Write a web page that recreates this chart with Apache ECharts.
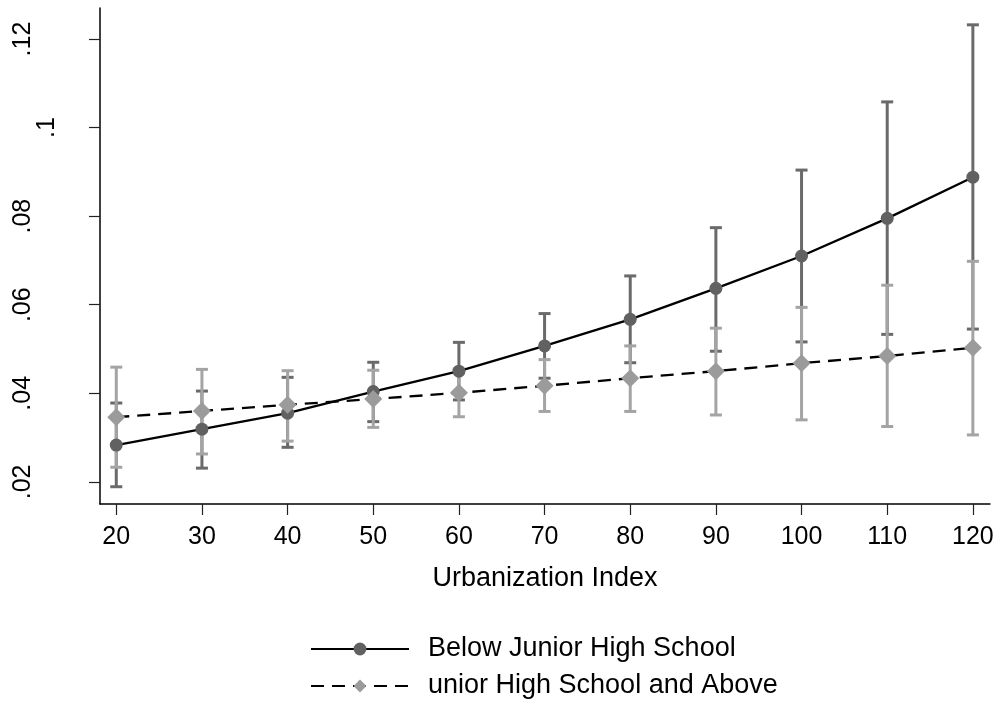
<!DOCTYPE html>
<html>
<head>
<meta charset="utf-8">
<script src="https://cdn.jsdelivr.net/npm/echarts@6/dist/echarts.min.js"></script>
<style>
html,body{margin:0;padding:0;background:#fff;}
#chart{width:1001px;height:709px;}
</style>
</head>
<body>
<div id="chart"></div>
<script>
const xValues = [20, 30, 40, 50, 60, 70, 80, 90, 100, 110, 120];
const belowMean = [0.0283, 0.0319, 0.0355, 0.0404, 0.0450, 0.0507, 0.0567, 0.0637, 0.0710, 0.0795, 0.0888];
const belowLow  = [0.0189, 0.0231, 0.0278, 0.0336, 0.0385, 0.0434, 0.0469, 0.0495, 0.0516, 0.0533, 0.0545];
const belowHigh = [0.0378, 0.0405, 0.0436, 0.0470, 0.0515, 0.0580, 0.0665, 0.0774, 0.0904, 0.1058, 0.1232];
const aboveMean = [0.0346, 0.0360, 0.0374, 0.0387, 0.0401, 0.0417, 0.0434, 0.0450, 0.0468, 0.0484, 0.0503];
const aboveLow  = [0.0233, 0.0263, 0.0292, 0.0323, 0.0347, 0.0359, 0.0359, 0.0351, 0.0340, 0.0325, 0.0306];
const aboveHigh = [0.0459, 0.0454, 0.0451, 0.0452, 0.0455, 0.0476, 0.0507, 0.0547, 0.0594, 0.0644, 0.0698];
const xTicks = [20, 30, 40, 50, 60, 70, 80, 90, 100, 110, 120];
const yTicksMain = [0.02, 0.04, 0.06, 0.08, 0.12];
const yTicksAlt = [0.1];
const yTicksAll = [0.02, 0.04, 0.06, 0.08, 0.1, 0.12];
const seriesNames = ['Below Junior High School', 'unior High School and Above'];

const FONT = '"Liberation Sans", Arial, sans-serif';
const fmtY = v => String(+v.toFixed(4)).replace(/^0\./, '.');

function ciRender(color) {
  return function (params, api) {
    const x = api.value(0), lo = api.value(1), hi = api.value(2);
    const pHi = api.coord([x, hi]);
    const pLo = api.coord([x, lo]);
    const half = 6;
    const style = { stroke: color, lineWidth: 3 };
    return {
      type: 'group',
      children: [
        { type: 'line', shape: { x1: pHi[0], y1: pHi[1], x2: pLo[0], y2: pLo[1] }, style },
        { type: 'line', shape: { x1: pHi[0] - half, y1: pHi[1], x2: pHi[0] + half, y2: pHi[1] }, style },
        { type: 'line', shape: { x1: pLo[0] - half, y1: pLo[1], x2: pLo[0] + half, y2: pLo[1] }, style }
      ]
    };
  };
}

const chart = echarts.init(document.getElementById('chart'), null, { renderer: 'canvas' });
const yAxisBase = {
  type: 'value', min: 0.015, max: 0.127, position: 'left',
  splitLine: { show: false }
};
chart.setOption({
  animation: false,
  backgroundColor: '#fff',
  grid: { left: 100, right: 11, top: 8, bottom: 205 },
  xAxis: {
    type: 'value', min: 18.1, max: 122,
    name: 'Urbanization Index', nameLocation: 'middle', nameGap: 61,
    nameTextStyle: { fontFamily: FONT, fontSize: 27, color: '#000' },
    axisLine: { show: true, onZero: false, lineStyle: { color: '#000', width: 1.5 } },
    axisTick: { show: true, customValues: xTicks, length: 11, lineStyle: { color: '#222', width: 1.2 } },
    axisLabel: { customValues: xTicks, margin: 21, fontFamily: FONT, fontSize: 25, color: '#000' },
    splitLine: { show: false }
  },
  yAxis: [
    Object.assign({}, yAxisBase, {
      axisLine: { show: true, onZero: false, lineStyle: { color: '#000', width: 1.5 } },
      axisTick: { show: true, customValues: yTicksAll, length: 11, lineStyle: { color: '#222', width: 1.2 } },
      axisLabel: { customValues: yTicksMain, rotate: 90, margin: 64, fontFamily: FONT, fontSize: 25, color: '#000', formatter: fmtY }
    }),
    Object.assign({}, yAxisBase, {
      axisLine: { show: false },
      axisTick: { show: false },
      axisLabel: { customValues: yTicksAlt, rotate: 90, margin: 40, fontFamily: FONT, fontSize: 25, color: '#000', formatter: fmtY }
    })
  ],
  legend: {
    orient: 'vertical', left: 310, top: 634, height: 75, padding: 0,
    itemWidth: 98, itemHeight: 16, itemGap: 7,
    data: seriesNames,
    textStyle: { fontFamily: FONT, fontSize: 27, lineHeight: 30, color: '#000', padding: [0, 0, 0, 14] }
  },
  series: [
    {
      type: 'custom', name: 'ci1', z: 2, silent: true,
      renderItem: ciRender('#6a6a6a'),
      encode: { x: 0, y: [1, 2] },
      data: xValues.map((x, i) => [x, belowLow[i], belowHigh[i]])
    },
    {
      type: 'custom', name: 'ci2', z: 3, silent: true,
      renderItem: ciRender('#a4a4a4'),
      encode: { x: 0, y: [1, 2] },
      data: xValues.map((x, i) => [x, aboveLow[i], aboveHigh[i]])
    },
    {
      type: 'line', name: seriesNames[0], z: 4,
      data: xValues.map((x, i) => [x, belowMean[i]]),
      symbol: 'circle', symbolSize: 13, showAllSymbol: true,
      lineStyle: { color: '#000', width: 2.3, type: 'solid' },
      itemStyle: { color: '#616161' }
    },
    {
      type: 'line', name: seriesNames[1], z: 5,
      data: xValues.map((x, i) => [x, aboveMean[i]]),
      symbol: 'diamond', symbolSize: 18, showAllSymbol: true,
      lineStyle: { color: '#000', width: 2.3, type: [13, 8] },
      itemStyle: { color: '#9b9b9b' }
    }
  ]
});
</script>
</body>
</html>
